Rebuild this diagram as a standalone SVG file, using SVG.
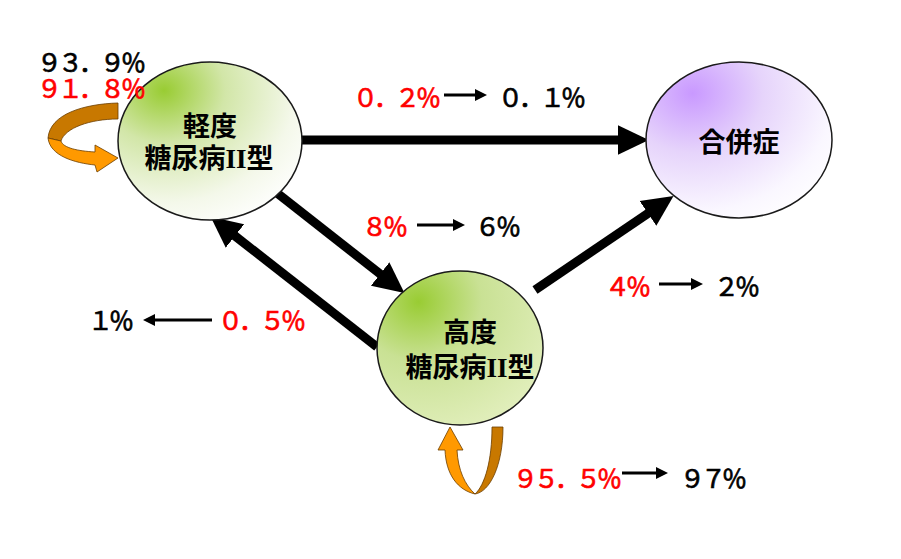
<svg xmlns="http://www.w3.org/2000/svg" width="901" height="559" viewBox="0 0 901 559">
<style>
.node{stroke:#1a1a1a;stroke-width:1.5}
.lbl{font-family:"Noto Sans CJK JP","Noto Sans CJK SC",sans-serif;font-weight:bold;font-size:27px;fill:#000;text-anchor:middle}
.rom{font-family:"Liberation Serif",serif;font-weight:bold;font-size:27px}
.pct{font-family:"Noto Sans CJK JP","Noto Sans CJK SC",sans-serif;font-size:25px;letter-spacing:-4px;stroke-width:0.7}
.red{fill:#ff0000;stroke:#ff0000}
.blk{fill:#000;stroke:#000}
.big{stroke:#000;stroke-width:9;fill:none}
.small{stroke:#000;stroke-width:3;fill:none}
.dark{fill:#c87800;stroke:#6b3d00;stroke-width:0.8}
.bright{fill:#ff9900;stroke:#6b3d00;stroke-width:0.8}
</style>
<defs>
<radialGradient id="gLight" cx="0.25" cy="0.18" r="0.95" fx="0.25" fy="0.18">
<stop offset="0" stop-color="#99cc33"/>
<stop offset="0.35" stop-color="#d2e6a8"/>
<stop offset="0.75" stop-color="#f4f8ea"/>
<stop offset="1" stop-color="#ffffff"/>
</radialGradient>
<radialGradient id="gDeep" cx="0.25" cy="0.2" r="0.95" fx="0.25" fy="0.2">
<stop offset="0" stop-color="#99cc33"/>
<stop offset="0.4" stop-color="#c9e194"/>
<stop offset="1" stop-color="#e4f0c0"/>
</radialGradient>
<radialGradient id="gPurple" cx="0.25" cy="0.2" r="0.95" fx="0.25" fy="0.2">
<stop offset="0" stop-color="#c999ff"/>
<stop offset="0.4" stop-color="#e6d4fb"/>
<stop offset="0.8" stop-color="#faf7ff"/>
<stop offset="1" stop-color="#ffffff"/>
</radialGradient>
<marker id="bigHead" markerUnits="userSpaceOnUse" markerWidth="32" markerHeight="32" viewBox="0 -15 30 30" refX="2" refY="0" orient="auto">
<path d="M0,-14 L29,0 L0,14 Z" fill="#000"/>
</marker>
<marker id="smallHead" markerUnits="userSpaceOnUse" markerWidth="14" markerHeight="14" viewBox="0 -7 13 14" refX="1" refY="0" orient="auto">
<path d="M0,-6 L12,0 L0,6 Z" fill="#000"/>
</marker>
</defs>

<g id="connectors">
<line class="big" x1="302" y1="140" x2="620" y2="140" marker-end="url(#bigHead)"/>
<line class="big" x1="277" y1="193" x2="381.8" y2="275.3" marker-end="url(#bigHead)"/>
<line class="big" x1="377" y1="347" x2="233.3" y2="234.6" marker-end="url(#bigHead)"/>
<line class="big" x1="535" y1="290" x2="649.7" y2="212.2" marker-end="url(#bigHead)"/>
</g>

<g id="node-mild">
<ellipse class="node" cx="210" cy="141" rx="92" ry="79" fill="url(#gLight)"/>
<text class="lbl" x="210" y="136">軽度</text>
<text class="lbl" x="209" y="168">糖尿病<tspan class="rom">II</tspan>型</text>
</g>

<g id="node-severe">
<ellipse class="node" cx="460" cy="348" rx="83" ry="77" fill="url(#gDeep)"/>
<text class="lbl" x="470" y="342">高度</text>
<text class="lbl" x="470" y="377">糖尿病<tspan class="rom">II</tspan>型</text>
</g>

<g id="node-complication">
<ellipse class="node" cx="739" cy="140" rx="93" ry="78" fill="url(#gPurple)"/>
<text class="lbl" x="739" y="152">合併症</text>
</g>

<g id="loop-mild">
<path class="dark" d="M118,103 C84,104 50,114 48,138 L61,141 C65,128 90,119 118,119 Z"/>
<path class="bright" d="M48,138 C50,156 75,163 95,165 L97,172 L118,158 L95,145 L95,152 C78,151 63,148 61,141 Z"/>
</g>

<g id="loop-severe">
<path class="dark" d="M492,427 L503,427 C503,465 490,492 475,494 C485,485 492,460 492,427 Z"/>
<path class="bright" d="M475,494 C458,490 446,475 445,450 L438,450 L450,427 L463,450 L457,450 C458,470 465,485 475,494 Z"/>
</g>

<g id="rates">
<text class="pct blk" x="37" y="72">９３．９％</text>
<text class="pct red" x="37" y="98">９１．８％</text>

<text class="pct red" x="353" y="107">０．２％</text>
<line class="small" x1="444" y1="95" x2="476" y2="95" marker-end="url(#smallHead)"/>
<text class="pct blk" x="498" y="107">０．１％</text>

<text class="pct red" x="362" y="236">８％</text>
<line class="small" x1="417" y1="225" x2="454" y2="225" marker-end="url(#smallHead)"/>
<text class="pct blk" x="475" y="236">６％</text>

<text class="pct red" x="605" y="296">４％</text>
<line class="small" x1="659" y1="284" x2="692" y2="284" marker-end="url(#smallHead)"/>
<text class="pct blk" x="714" y="296">２％</text>

<text class="pct blk" x="88" y="330">１％</text>
<line class="small" x1="212" y1="320" x2="154" y2="320" marker-end="url(#smallHead)"/>
<text class="pct red" x="218" y="330">０．５％</text>

<text class="pct red" x="513" y="488">９５．５％</text>
<line class="small" x1="622" y1="473" x2="657" y2="473" marker-end="url(#smallHead)"/>
<text class="pct blk" x="680" y="488">９７％</text>
</g>
</svg>
